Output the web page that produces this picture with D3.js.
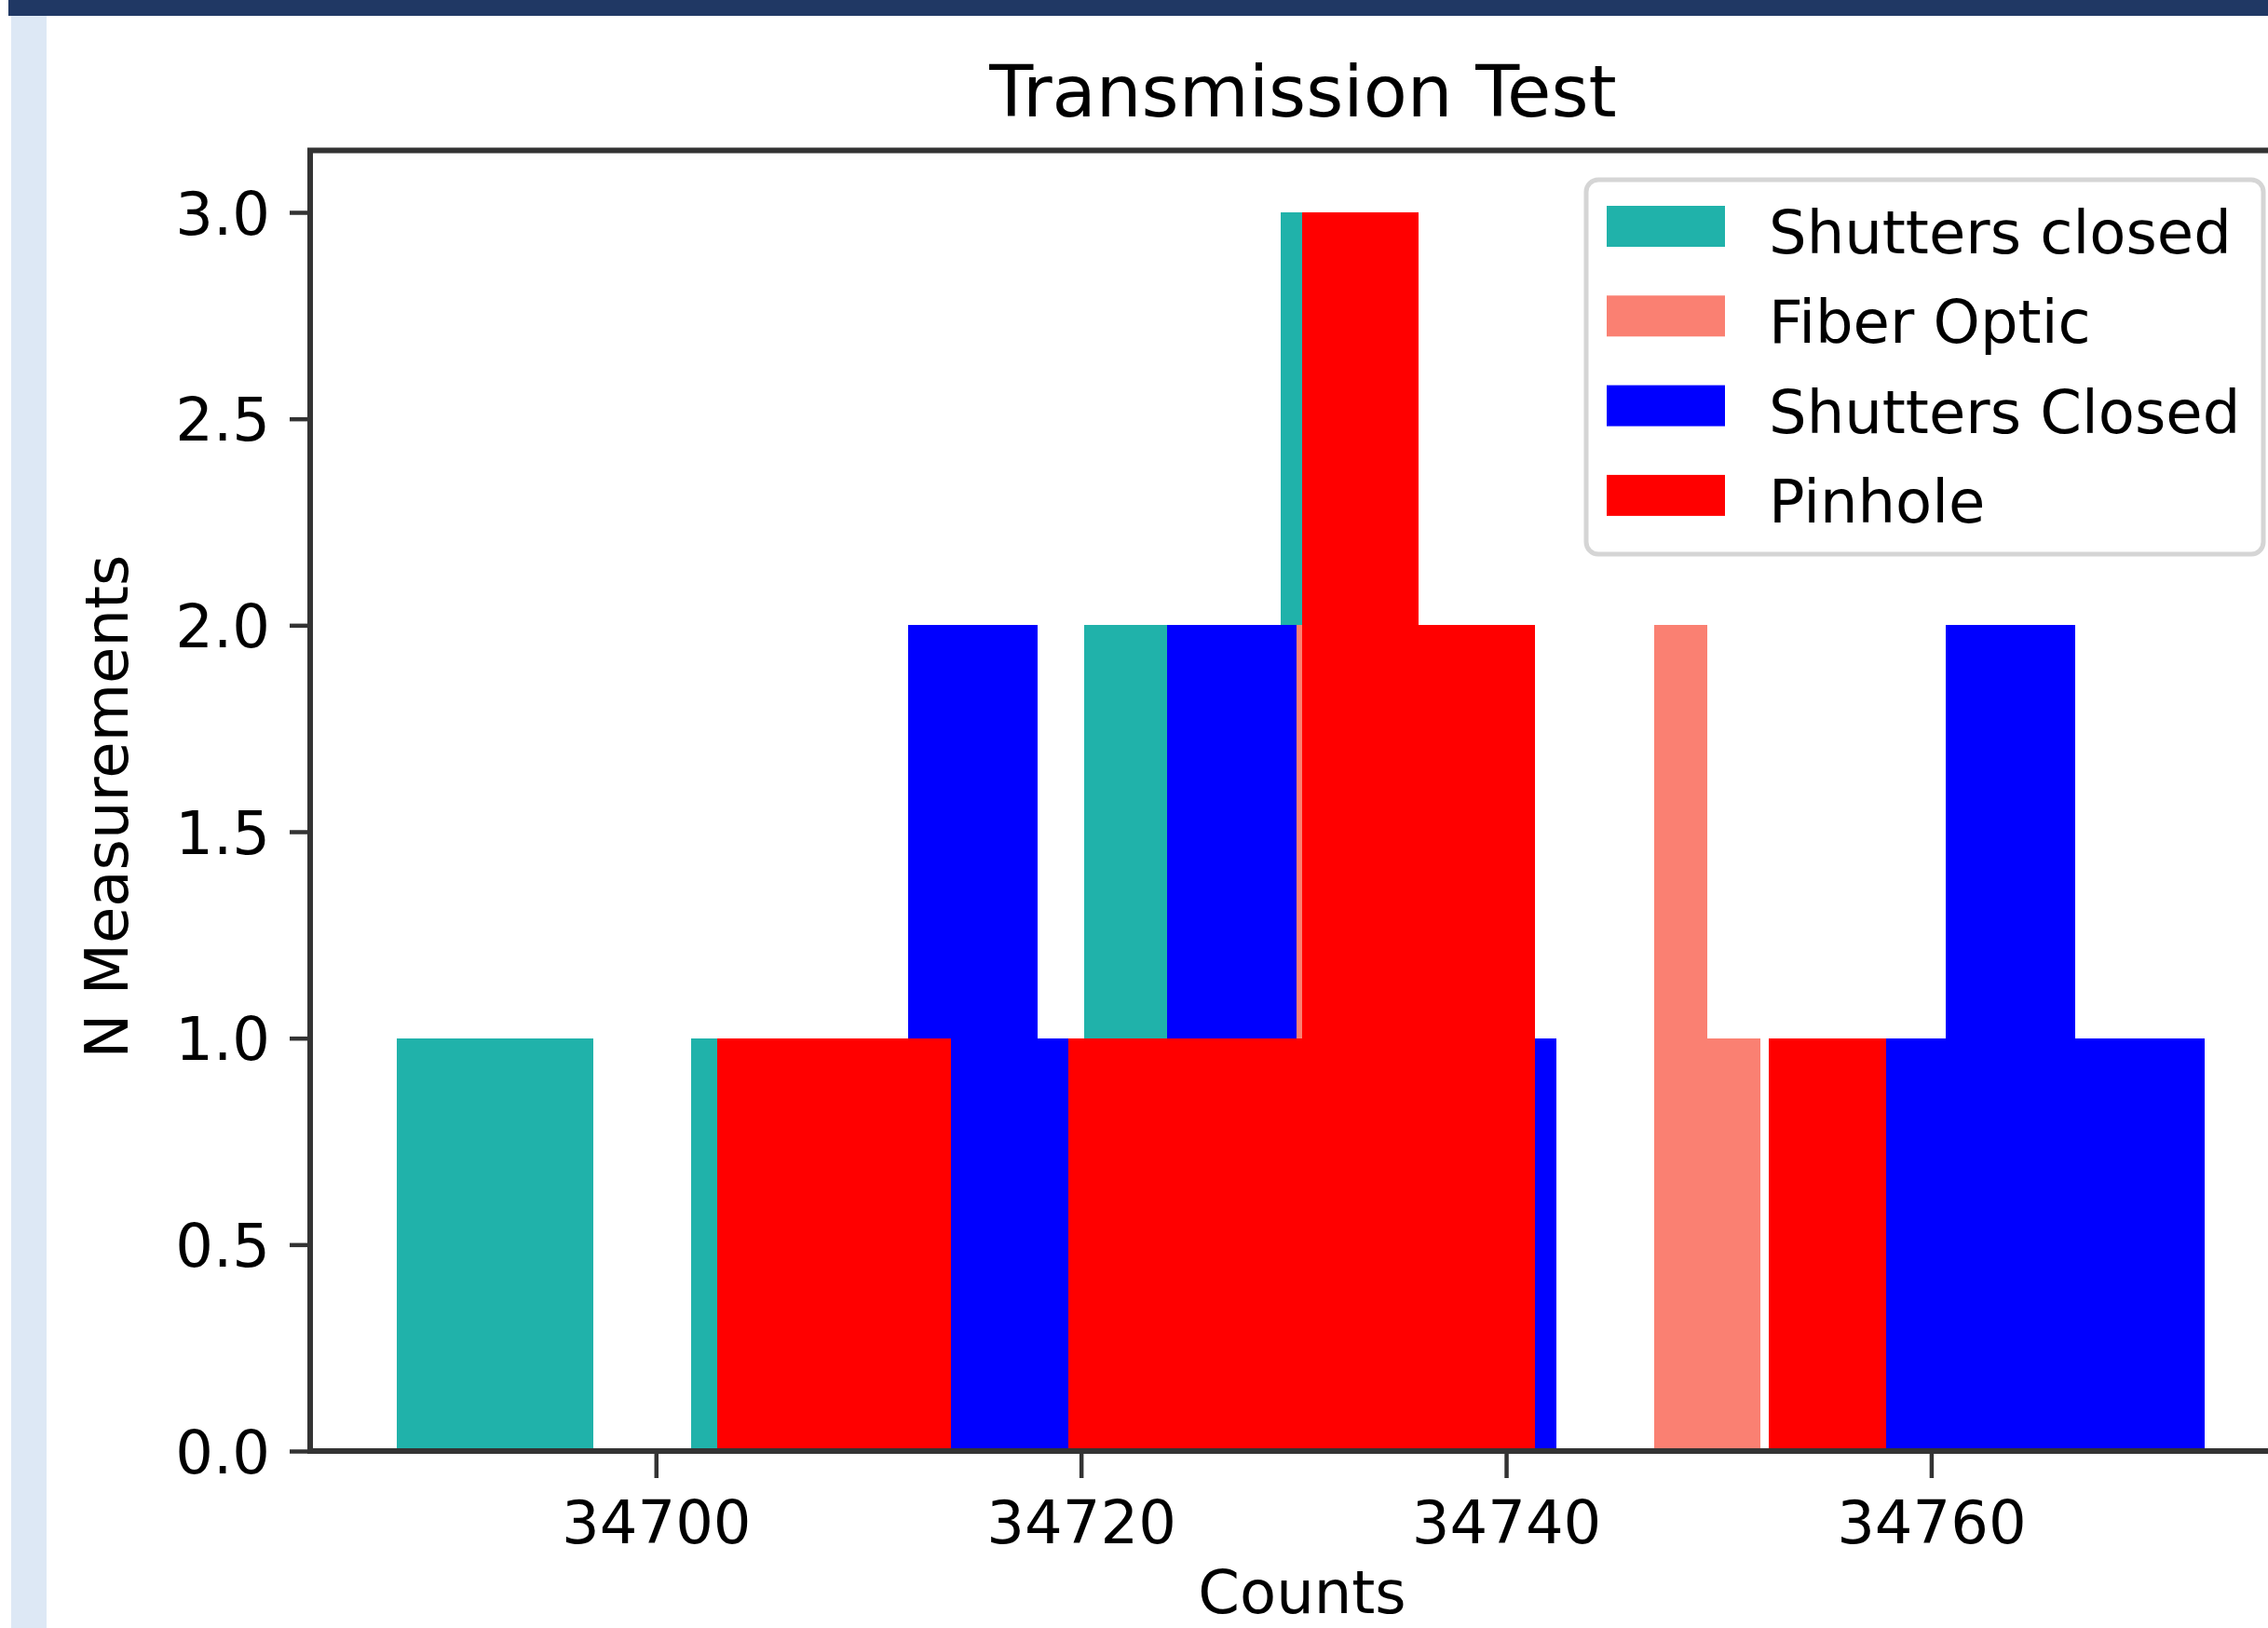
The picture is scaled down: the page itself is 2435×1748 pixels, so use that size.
<!DOCTYPE html>
<html lang="en">
<head>
	<meta charset="utf-8" />
	<title>Transmission Test</title>
	<script src="https://cdn.jsdelivr.net/npm/d3@7"></script>
</head>

<style>
html, body { margin: 0; padding: 0; background: #ffffff; }
svg { display: block; }
text { font-family: "DejaVu Sans", sans-serif; fill: #000000; }
</style>

<body>

<!-- Create a div where the graph will take place -->
<div id="TransmissionTest"></div>

</body>

<script>

// histogram data: first bin edge, bin width and the count in each of the 10 bins
var seriesNames = ["Shutters closed", "Fiber Optic", "Shutters Closed", "Pinhole"];
var seriesColors = ["#20b2aa", "#fa8072", "#0000ff", "#ff0000"];
var binStarts = [34687.80, 34726.99, 34711.85, 34702.90];
var binWidths = [4.622, 2.496, 6.103, 5.496];
var countsShuttersClosedA = [1, 1, 0, 1, 1, 0, 1, 2, 1, 3];
var countsFiberOptic      = [1, 2, 2, 1, 1, 0, 0, 0, 2, 1];
var countsShuttersClosedB = [2, 1, 2, 1, 1, 0, 0, 1, 2, 1];
var countsPinhole         = [1, 1, 0, 1, 1, 3, 2, 0, 0, 1];
var seriesCounts = [countsShuttersClosedA, countsFiberOptic, countsShuttersClosedB, countsPinhole];

// axis settings
var xTicks = [34700, 34720, 34740, 34760];
var yTicks = [0, 0.5, 1, 1.5, 2, 2.5, 3];
var xLimits = [34683.73, 34777.16];
var yLimits = [0, 3.15];

// the page is a screenshot, the axes run past the right edge
var pageWidth = 2435, pageHeight = 1748;
var margin = {top: 161.5, left: 333},
    width = 2132,
    height = 1396.5;

var svg = d3.select("#TransmissionTest")
  .append("svg")
    .attr("width", pageWidth)
    .attr("height", pageHeight);

// window decoration from the screenshot
svg.append("rect")
  .attr("x", 9).attr("y", 0)
  .attr("width", pageWidth - 9).attr("height", 17)
  .attr("fill", "#203864");
svg.append("rect")
  .attr("x", 12).attr("y", 17)
  .attr("width", 38).attr("height", pageHeight - 17)
  .attr("fill", "#dde8f5");

var x = d3.scaleLinear()
  .domain(xLimits)
  .range([margin.left, margin.left + width]);

var y = d3.scaleLinear()
  .domain(yLimits)
  .range([margin.top + height, margin.top]);

// bars, one histogram after the other so later ones sit on top
seriesCounts.forEach(function(counts, i) {
  var bins = counts.map(function(c, j) {
    return { x0: binStarts[i] + j * binWidths[i], x1: binStarts[i] + (j + 1) * binWidths[i], n: c };
  }).filter(function(b) { return b.n > 0; });

  svg.append("g")
    .selectAll("rect")
    .data(bins)
    .enter()
    .append("rect")
      .attr("x", function(d) { return x(d.x0); })
      .attr("width", function(d) { return x(d.x1) - x(d.x0); })
      .attr("y", function(d) { return y(d.n); })
      .attr("height", function(d) { return y(0) - y(d.n); })
      .attr("fill", seriesColors[i])
      .attr("shape-rendering", "crispEdges");
});

// X axis
var gx = svg.append("g")
  .attr("transform", "translate(0," + y(0) + ")")
  .call(d3.axisBottom(x).tickValues(xTicks).tickFormat(d3.format("d")).tickSize(29).tickSizeOuter(0));
gx.select(".domain").remove();
gx.selectAll(".tick line").attr("stroke", "#333333").attr("stroke-width", 4.5);
gx.selectAll(".tick text")
  .attr("y", 99).attr("dy", null)
  .style("font-size", "64px")
  .style("font-family", "DejaVu Sans")
  .attr("fill", "#000000");

// Y axis
var gy = svg.append("g")
  .attr("transform", "translate(" + margin.left + ",0)")
  .call(d3.axisLeft(y).tickValues(yTicks).tickFormat(d3.format(".1f")).tickSize(22).tickSizeOuter(0));
gy.select(".domain").remove();
gy.selectAll(".tick line").attr("stroke", "#333333").attr("stroke-width", 4.5);
gy.selectAll(".tick text")
  .attr("x", -43).attr("dy", "0.36em")
  .style("font-size", "64px")
  .style("font-family", "DejaVu Sans")
  .attr("fill", "#000000");

// spines (right one is off the page)
svg.append("path")
  .attr("d", "M" + x(xLimits[1]) + "," + y(yLimits[1]) +
             "H" + x(xLimits[0]) + "V" + y(0) + "H" + x(xLimits[1]))
  .attr("fill", "none")
  .attr("stroke", "#333333")
  .attr("stroke-width", 6)
  .attr("stroke-linecap", "square");

// title and labels
svg.append("text")
  .attr("x", margin.left + width / 2)
  .attr("y", 125)
  .style("text-anchor", "middle")
  .style("font-size", "77px")
  .text("Transmission Test");

// kept just inside the page bottom
svg.append("text")
  .attr("x", 1398)
  .attr("y", 1732)
  .style("text-anchor", "middle")
  .style("font-size", "64px")
  .text("Counts");

svg.append("text")
  .attr("transform", "translate(137,866) rotate(-90)")
  .style("text-anchor", "middle")
  .style("font-size", "64px")
  .text("N Measurements");

// legend, upper right
var legend = svg.append("g");
legend.append("rect")
  .attr("x", 1703).attr("y", 193)
  .attr("width", 727).attr("height", 402)
  .attr("rx", 13).attr("ry", 13)
  .attr("fill", "#ffffff")
  .attr("fill-opacity", 0.8)
  .attr("stroke", "#d5d5d5")
  .attr("stroke-width", 5);

var rows = legend.selectAll("g.row")
  .data(seriesNames)
  .enter()
  .append("g")
    .attr("class", "row")
    .attr("transform", function(d, i) { return "translate(0," + (221 + i * 96.3) + ")"; });

rows.append("rect")
  .attr("x", 1725).attr("y", 0)
  .attr("width", 127).attr("height", 44)
  .attr("fill", function(d, i) { return seriesColors[i]; });

rows.append("text")
  .attr("x", 1899).attr("y", 51)
  .style("font-size", "64px")
  .text(function(d) { return d; });

</script>

</html>
